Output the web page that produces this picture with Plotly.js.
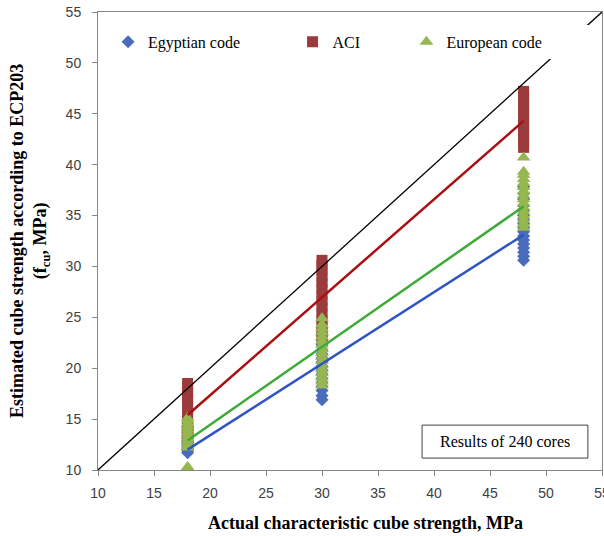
<!DOCTYPE html>
<html><head><meta charset="utf-8">
<script src="https://cdn.plot.ly/plotly-3.0.1.min.js"></script>
<style>html,body{margin:0;padding:0;background:#fff}</style>
</head><body><div id="chart" style="width:604px;height:536px"></div>
<script>
// Actual characteristic cube strength groups (MPa)
const groupX = [18, 30, 48];

// Egyptian code estimates per group
const egyptian18 = [11.7, 11.9, 12.1, 12.3, 12.5, 12.7, 12.9, 13.1, 13.3, 13.6, 13.9, 14.2];
const egyptian30 = [16.9, 17.3, 17.8, 18.2, 18.6, 19.0, 19.4, 19.8, 20.2, 20.6, 21.0, 21.4, 21.8, 22.3, 22.8, 23.3];
const egyptian48 = [30.6, 31.0, 31.4, 31.8, 32.2, 32.6, 33.0, 33.4, 33.8, 34.2, 34.6, 35.0, 35.5, 36.0, 36.6, 37.2, 37.8];

// ACI estimates per group
const aci18 = [13.5, 14.0, 14.5, 15.0, 15.5, 16.0, 16.5, 17.0, 17.5, 18.0, 18.5];
const aci30 = [23.0, 23.6, 24.2, 24.8, 25.4, 26.0, 26.6, 27.2, 27.8, 28.4, 29.0, 29.6, 30.1, 30.6];
const aci48 = [41.7, 42.2, 42.7, 43.2, 43.7, 44.2, 44.7, 45.2, 45.7, 46.2, 46.7, 47.2];

// European code estimates per group
const european18 = [10.3, 12.2, 12.5, 12.8, 13.1, 13.4, 13.7, 14.0, 14.3, 14.6, 14.9, 15.1];
const european30 = [18.3, 18.7, 19.1, 19.5, 19.9, 20.3, 20.7, 21.1, 21.5, 21.9, 22.3, 22.7, 23.1, 23.5, 23.9, 24.3, 24.9];
const european48 = [33.8, 34.2, 34.6, 35.0, 35.4, 35.8, 36.2, 36.6, 37.0, 37.4, 37.8, 38.2, 38.6, 39.0, 39.3, 40.7];

// Linear trend lines (from group 18 to group 48)
const trendX = [18, 48];
const egyptianTrend = [12.0, 33.1];
const aciTrend = [15.4, 44.3];
const europeanTrend = [12.9, 35.9];

// Equality line
const equalityX = [10, 55];
const equalityY = [10, 55];

const tickVals = [10, 15, 20, 25, 30, 35, 40, 45, 50, 55];

function flatten(groups) {
  const xs = [], ys = [];
  groups.forEach((vals, i) => { vals.forEach(v => { xs.push(groupX[i]); ys.push(v); }); });
  return {x: xs, y: ys};
}
const eg = flatten([egyptian18, egyptian30, egyptian48]);
const ac = flatten([aci18, aci30, aci48]);
const eu = flatten([european18, european30, european48]);

const serif = 'Liberation Serif, Times New Roman, serif';

const traces = [
  {type:'scatter', mode:'markers', name:'Egyptian code', x:eg.x, y:eg.y, legend:'legend',
   marker:{symbol:'diamond', size:10, color:'#4a6cbd'}},
  {type:'scatter', mode:'markers', name:'ACI', x:ac.x, y:ac.y, legend:'legend2',
   marker:{symbol:'square', size:11, color:'#9c3b3b'}},
  {type:'scatter', mode:'markers', name:'European code', x:eu.x, y:eu.y, legend:'legend3',
   marker:{symbol:'triangle-up', size:12, color:'#96b74f'}},
  {type:'scatter', mode:'lines', x:trendX, y:egyptianTrend, showlegend:false,
   line:{color:'#2f55c4', width:2.5}},
  {type:'scatter', mode:'lines', x:trendX, y:europeanTrend, showlegend:false,
   line:{color:'#3faa3a', width:2.5}},
  {type:'scatter', mode:'lines', x:trendX, y:aciTrend, showlegend:false,
   line:{color:'#a80f12', width:2.5}},
  {type:'scatter', mode:'lines', x:equalityX, y:equalityY, showlegend:false,
   line:{color:'#000000', width:1.3}}
];

const axisCommon = {
  range:[10,55], tickvals:tickVals, showgrid:false, zeroline:false,
  showline:true, linecolor:'#868686', linewidth:1, mirror:true,
  ticks:'outside', ticklen:5, tickcolor:'#868686', ticklabeloverflow:'allow',
  tickfont:{family:'Liberation Sans, Arial, sans-serif', size:14, color:'#404040'}
};

const legendCommon = {orientation:'h', yanchor:'middle', y:0.935, bgcolor:'#ffffff',
  borderwidth:0, font:{family:serif, size:16, color:'#000'}, itemwidth:30, xanchor:'left'};

const layout = {
  width:604, height:536,
  margin:{l:98, r:2, t:12, b:66},
  paper_bgcolor:'#ffffff', plot_bgcolor:'#ffffff',
  showlegend:true,
  xaxis:Object.assign({}, axisCommon, {ticklabelstandoff:5}),
  yaxis:Object.assign({}, axisCommon, {ticklabelstandoff:8}),
  legend:Object.assign({}, legendCommon, {x:0.02}),
  legend2:Object.assign({}, legendCommon, {x:0.386}),
  legend3:Object.assign({}, legendCommon, {x:0.612, entrywidth:140}),
  shapes:[
    {type:'rect', xref:'paper', yref:'paper', x0:0.643, x1:0.972, y0:0.026, y1:0.098,
     line:{color:'#404040', width:1}, fillcolor:'#ffffff', layer:'above'}
  ],
  annotations:[
    {text:'Results of 240 cores', xref:'paper', yref:'paper', x:0.8075, y:0.062,
     xanchor:'center', yanchor:'middle', showarrow:false, font:{family:serif, size:16, color:'#000'}},
    {text:'<b>Actual characteristic cube strength, MPa</b>', xref:'paper', yref:'paper',
     x:0.53, y:-0.116, xanchor:'center', yanchor:'middle', showarrow:false,
     font:{family:serif, size:18, color:'#000'}},
    {text:'<b>Estimated cube strength according to ECP203</b><br><b>(f<sub>cu</sub>, MPa)</b>',
     xref:'paper', yref:'paper', x:-0.135, y:0.5, xanchor:'center', yanchor:'middle',
     textangle:-90, showarrow:false, font:{family:serif, size:18, color:'#000'}}
  ]
};

Plotly.newPlot('chart', traces, layout, {displayModeBar:false, staticPlot:true});
</script>
</body></html>
